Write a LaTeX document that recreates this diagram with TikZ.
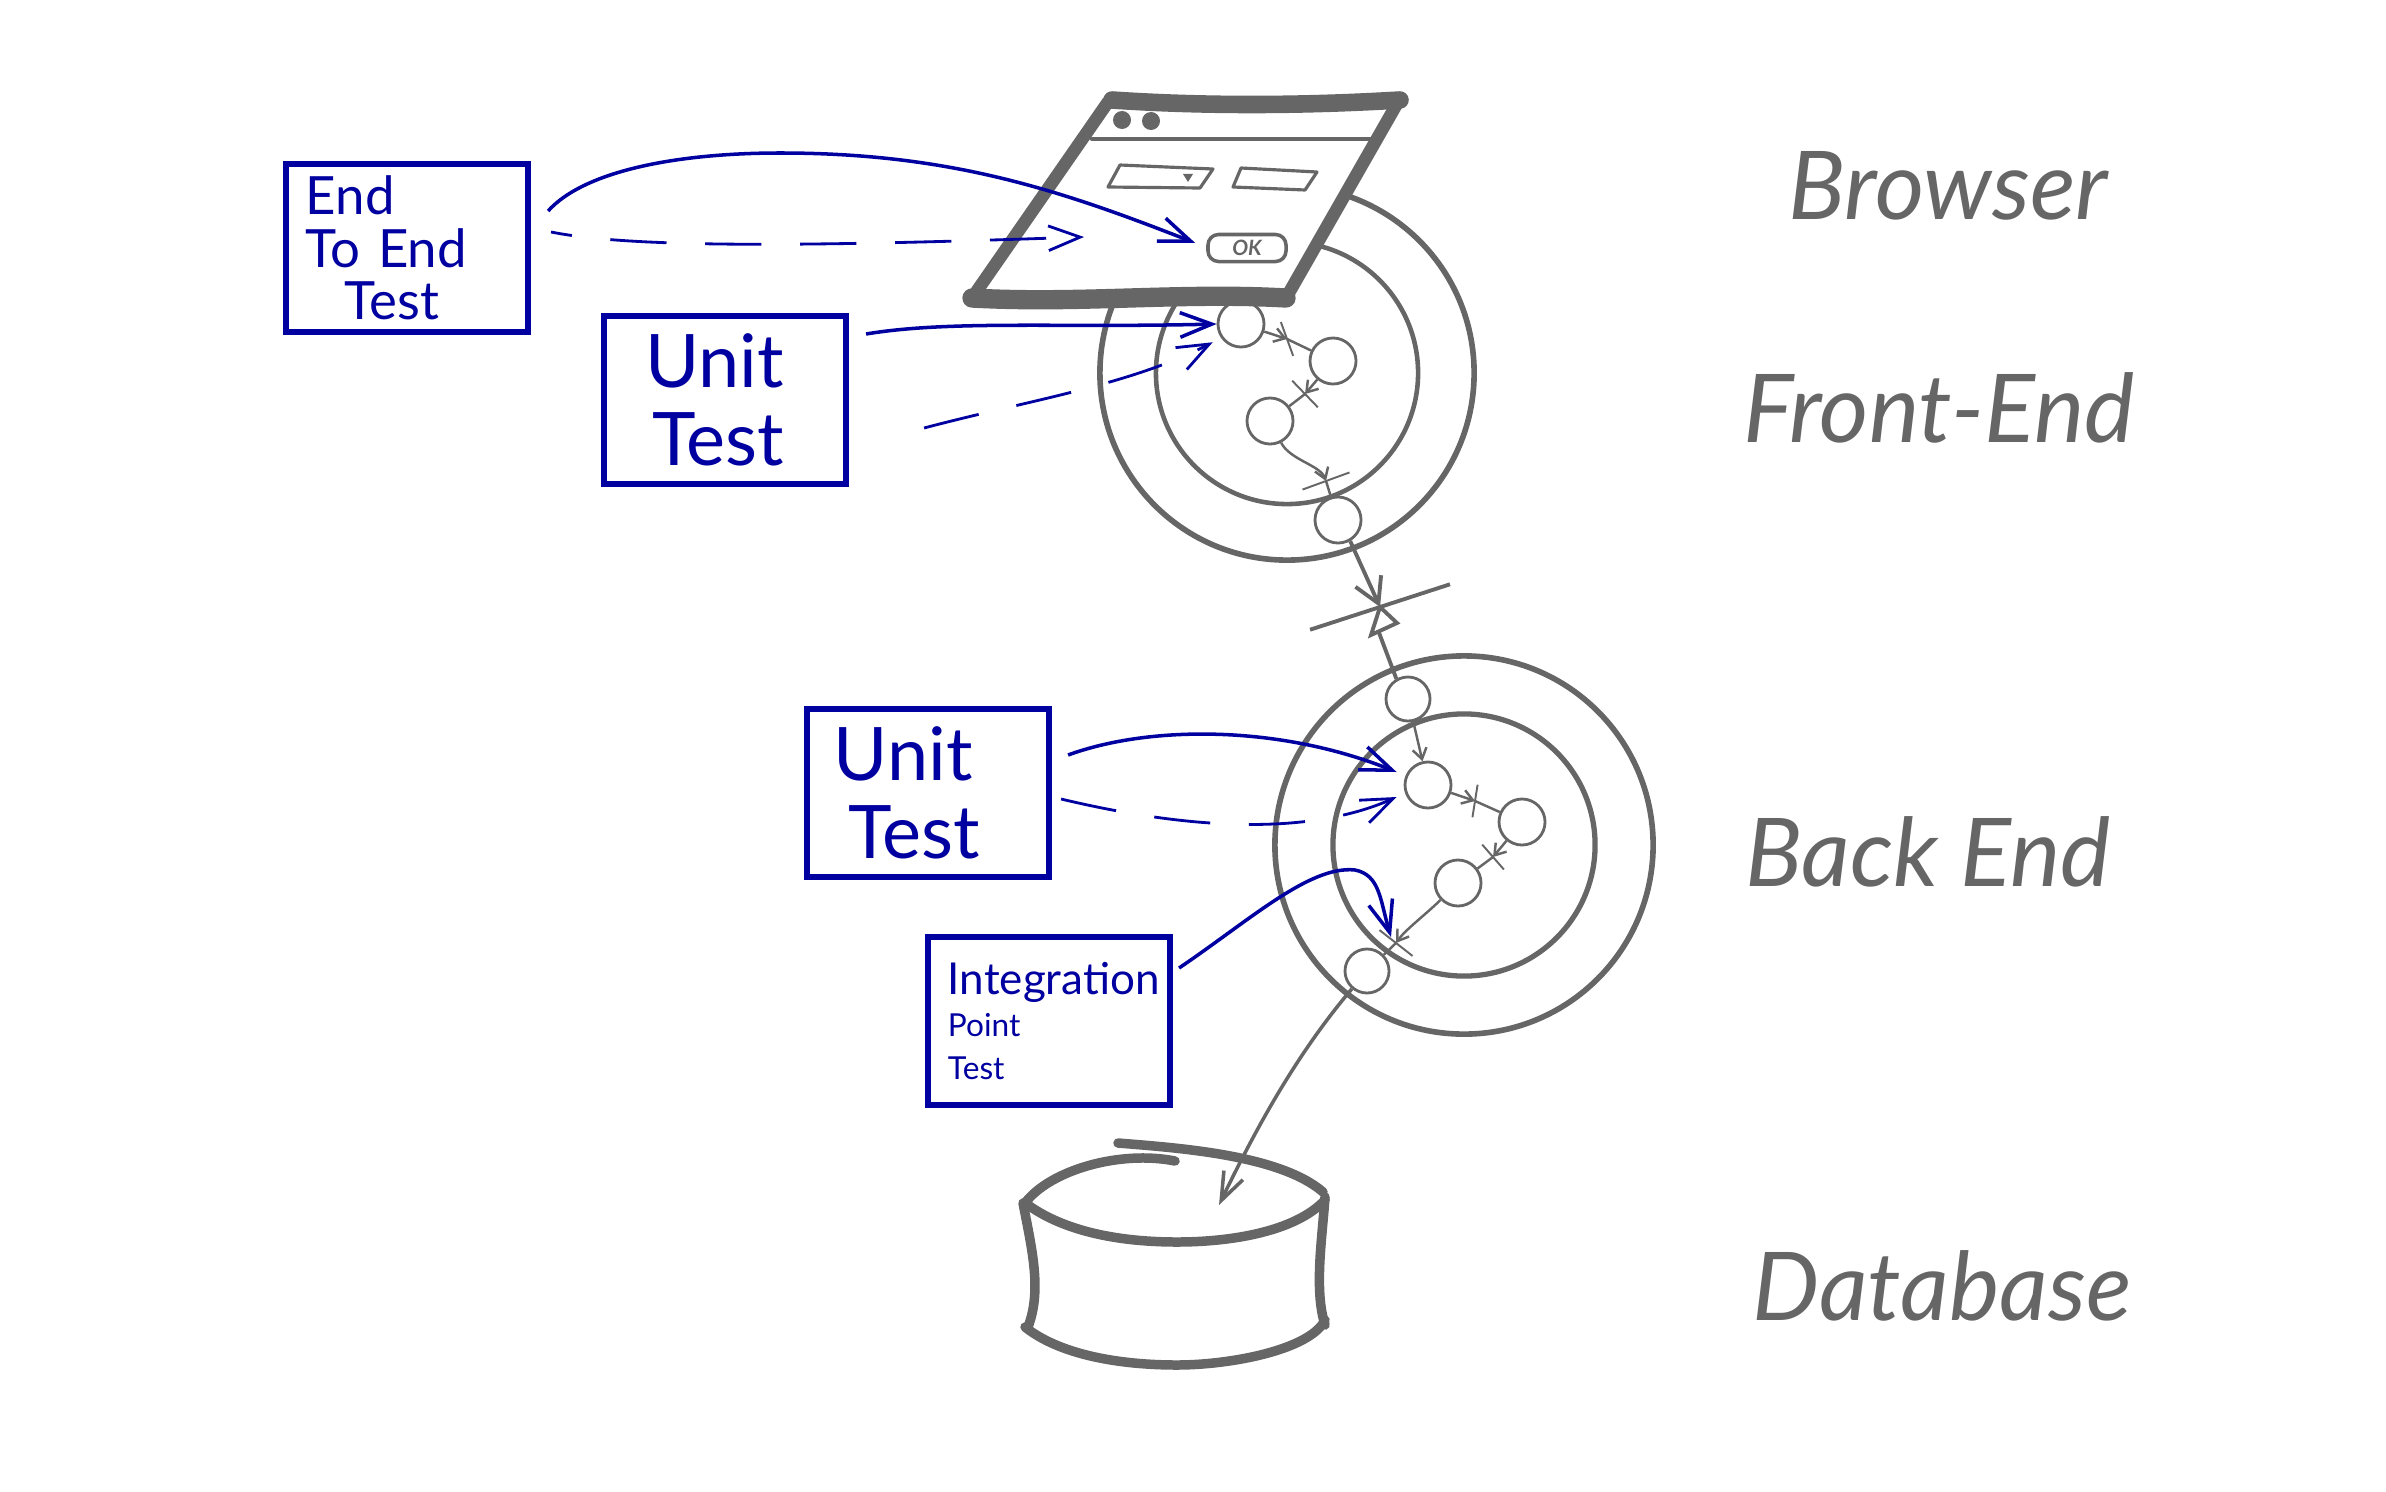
\documentclass[tikz,border=0pt]{standalone}
\usepackage{xcolor}
\usepackage{fontspec}
\usetikzlibrary{arrows.meta}
\setmainfont{Lato}
\definecolor{sketchgray}{HTML}{666666}
\definecolor{testblue}{HTML}{0000A0}
\tikzset{
  layerring/.style={draw=sketchgray, circle, inner sep=0pt},
  unitnode/.style={draw=sketchgray, circle, line width=0.8pt, inner sep=0pt, minimum size=0.46cm},
  crossbar/.style={draw=sketchgray, line width=0.55pt, inner sep=0pt, minimum width=0pt},
  linkline/.style={draw=sketchgray, line width=0.7pt},
  linkarrow/.style={linkline, -{Straight Barb[length=3pt,width=4pt]}},
  testbox/.style={draw=testblue, line width=1.7pt, text=testblue, minimum height=1.68cm,
    inner xsep=0.2cm, inner ysep=0pt, text width=2.02cm, align=left},
  testline/.style={testblue, line width=1pt, -{Straight Barb[length=9pt,width=7pt]}},
  testdash/.style={testline, line width=0.8pt, dash pattern=on 16pt off 11pt},
  layerlabel/.style={text=sketchgray, font=\fontsize{27}{30}\selectfont\itshape},
  sketch/.style={draw=sketchgray, line width=2.7pt, line cap=round, line join=round},
}
\begin{document}
\begin{tikzpicture}[x=0.01cm, y=-0.01cm]
\useasboundingbox (0,0) rectangle (2386,1491);

% Front-end rings and units
\node[layerring, line width=1.6pt, minimum size=3.74cm] (feouter) at (1287,373) {};
\node[layerring, line width=1.3pt, minimum size=2.62cm] (feinner) at (1287,373) {};
\node[unitnode] (fe1) at (1241,324) {};
\node[unitnode] (fe2) at (1333,361) {};
\node[unitnode] (fe3) at (1270,421) {};
\node[unitnode] (fe4) at (1338,520) {};
\node[crossbar, rotate=20, minimum height=0.36cm] (febar1) at (1287,339) {};
\node[crossbar, rotate=44, minimum height=0.37cm] (febar2) at (1305,394) {};
\node[crossbar, rotate=-70, minimum height=0.50cm] (febar3) at (1326,481) {};
\draw[linkarrow] (fe1) -- (febar1.center);
\draw[linkline] (febar1.center) -- (fe2);
\draw[linkarrow] (fe2) -- (febar2.center);
\draw[linkline] (febar2.center) -- (fe3);
\draw[linkarrow] (fe3) .. controls (1290,460) and (1320,465) .. (febar3.center);
\draw[linkline] (febar3.center) -- (fe4);

% Back-end rings and units
\node[layerring, line width=1.6pt, minimum size=3.78cm] (beouter) at (1464,845) {};
\node[layerring, line width=1.5pt, minimum size=2.62cm] (beinner) at (1464,845) {};
\node[unitnode, minimum size=0.44cm] (be1) at (1408,699) {};
\node[unitnode] (be2) at (1428,785) {};
\node[unitnode] (be3) at (1522,822) {};
\node[unitnode] (be4) at (1458,883) {};
\node[unitnode, minimum size=0.44cm] (be5) at (1367,971) {};
\node[crossbar, rotate=-9, minimum height=0.33cm] (bebar1) at (1475,801) {};
\node[crossbar, rotate=41, minimum height=0.33cm] (bebar2) at (1493,857) {};
\node[crossbar, rotate=52, minimum height=0.42cm] (bebar3) at (1396,943) {};
\draw[linkarrow] (be1) -- (be2);
\draw[linkarrow] (be2) -- (bebar1.center);
\draw[linkline] (bebar1.center) -- (be3);
\draw[linkarrow] (be3) -- (bebar2.center);
\draw[linkline] (bebar2.center) -- (be4);
\draw[linkarrow] (be4) .. controls (1425,915) and (1405,930) .. (bebar3.center);
\draw[linkline] (bebar3.center) -- (be5);

% Link from front-end to back-end
\node[crossbar, rotate=-72, line width=1.1pt, minimum height=1.47cm] (linkbar) at (1380,607) {};
\draw[linkline, line width=1.1pt, -{Straight Barb[length=7pt,width=8pt]}] (fe4.-60) -- (linkbar.center);
\draw[linkline, line width=1.1pt] (linkbar.center) -- (1397,623) -- (1371,635) -- cycle;
\draw[linkline, line width=1.1pt] (1378,630) -- (be1.120);

% Browser window
\draw[sketch, fill=white, line width=3.6pt] (1108,102) .. controls (1200,106) and (1300,106) .. (1398,102)
  -- (1286,298) .. controls (1180,292) and (1080,304) .. (972,298) -- cycle;
\draw[sketch, line width=5pt] (1112,100) .. controls (1200,106) and (1300,106) .. (1400,100);
\draw[sketch, line width=5.5pt] (972,298) .. controls (1080,304) and (1180,292) .. (1286,298);
\draw[sketch, line width=1.2pt] (1092,139) -- (1377,139);
\fill[sketchgray] (1122,120) circle (9);
\fill[sketchgray] (1151,121) circle (9);
\draw[sketch, line width=0.9pt] (1120,165) -- (1213,169) -- (1200,188) -- (1108,187) -- cycle;
\draw[sketch, line width=0.9pt] (1241,168) -- (1317,172) -- (1305,190) -- (1233,187) -- cycle;
\fill[sketchgray] (1183,174) -- (1193,174) -- (1188,182) -- cycle;
\node[draw=sketchgray, line width=1pt, rounded corners=3pt, minimum width=0.78cm, minimum height=0.27cm,
  inner sep=0pt, text=sketchgray, font=\fontsize{6}{6}\selectfont\bfseries\itshape] (okbtn) at (1247,248) {OK};

% Database
\draw[sketch] (1118,1143) .. controls (1180,1148) and (1280,1155) .. (1323,1192);
\draw[sketch] (1175,1161) .. controls (1120,1150) and (1050,1170) .. (1025,1203);
\draw[sketch] (1028,1205) .. controls (1070,1235) and (1130,1242) .. (1177,1242)
  .. controls (1230,1242) and (1295,1232) .. (1325,1200);
\draw[sketch] (1023,1203) .. controls (1032,1250) and (1042,1290) .. (1028,1327);
\draw[sketch] (1325,1197) .. controls (1322,1240) and (1314,1290) .. (1325,1325);
\draw[sketch] (1025,1327) .. controls (1060,1355) and (1120,1365) .. (1177,1365)
  .. controls (1230,1365) and (1310,1350) .. (1325,1320);
\draw[linkline, line width=1pt, -{Straight Barb[length=8pt,width=6pt]}] (be5) .. controls (1300,1050) and (1260,1120) .. (1219,1205);

% Layer labels
\node[layerlabel] (browserlabel) at (1948,186) {Browser};
\node[layerlabel] (frontlabel) at (1939,408) {Front-End};
\node[layerlabel] (backlabel) at (1928,852) {Back End};
\node[layerlabel] (dblabel) at (1942,1286) {Database};

% Test boxes
\node[testbox, font=\fontsize{15}{15}\selectfont] (e2e) at (407,248) {End\\To End\\\hspace*{11pt}Test};
\node[testbox, font=\fontsize{21}{22}\selectfont] (unitfe) at (725,400) {\hspace*{6pt}Unit\\\hspace*{8pt}Test};
\node[testbox, font=\fontsize{21}{22}\selectfont] (unitbe) at (928,793) {\hspace*{2pt}Unit\\\hspace*{6pt}Test};
\node[testbox, font=\fontsize{9}{12}\selectfont] (integ) at (1049,1021)
  {{\fontsize{12.5}{16}\selectfont Integration}\\Point\\Test};

% Test connectors
\draw[testline] ([shift={(17,-37)}]e2e.east) .. controls (585,170) and (680,153) .. (780,153)
  .. controls (950,153) and (1060,190) .. ([shift={(-11,-5)}]okbtn.west);
\coordinate (e2eend) at (1084,237);
\draw[testdash, dash phase=10pt] ([shift={(20,-16)}]e2e.east) .. controls (640,250) and (850,245) .. (e2eend);
\draw[testline] ([shift={(17,-66)}]unitfe.east) .. controls (950,320) and (1060,328) .. (fe1.west);
\draw[testdash] ([shift={(75,28)}]unitfe.east) .. controls (1030,400) and (1130,385) .. ([shift={(-11,1)}]fe1.south west);
\draw[testline] ([shift={(16,-38)}]unitbe.east) .. controls (1150,725) and (1280,725) .. ([shift={(-7,-13)}]be2.west);
\draw[testdash] ([shift={(9,6)}]unitbe.east) .. controls (1170,825) and (1300,840) .. ([shift={(-7,12)}]be2.west);
\draw[testline] ([shift={(6,-53)}]integ.east) .. controls (1250,920) and (1310,865) .. (1355,870)
  .. controls (1380,875) and (1380,900) .. ([shift={(-5,-6)}]bebar3.center);
\end{tikzpicture}
\end{document}
